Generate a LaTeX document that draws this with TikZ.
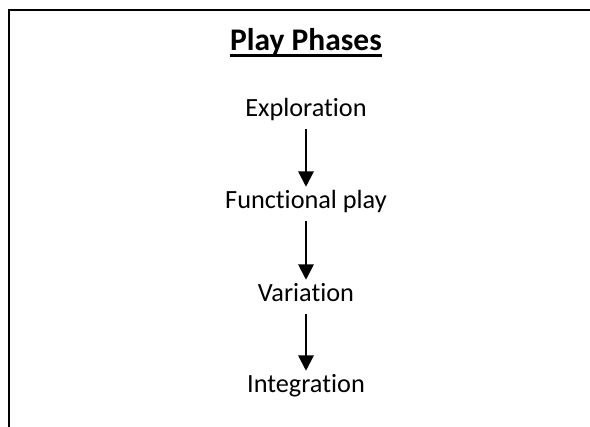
\documentclass[tikz,border=0pt]{standalone}
\usepackage{fontspec}
\setmainfont{Carlito}[Ligatures={CommonOff,ContextualOff}]
\usetikzlibrary{arrows.meta}
\begin{document}
\begin{tikzpicture}[x=0.75pt,y=-0.75pt,
  phase/.style={inner sep=0pt, anchor=base, font=\fontsize{19.7pt}{23pt}\selectfont,
                text height=16.5pt, text depth=9pt},
  heading/.style={inner sep=0pt, anchor=base, font=\fontsize{23.6pt}{28pt}\selectfont\bfseries},
  flow/.style={line width=1.5pt, -{Triangle[width=11.5pt,length=11.5pt]}},
  frame/.style={line width=1.3pt}]
  \useasboundingbox[fill=white] (0,0) rectangle (590,427);

  % open frame: top and left edges only
  \coordinate (topright) at (590,10);
  \coordinate (corner) at (9,10);
  \coordinate (bottomleft) at (9,427);
  \draw[frame] (topright) -- (corner) -- (bottomleft);

  % heading with underline
  \node[heading] (title) at (306,51) {Play Phases};
  \draw[line width=1.9pt] ([yshift=-3.4pt]title.base west) -- ([yshift=-3.4pt]title.base east);

  % phases
  \node[phase] (explore) at (306,117) {Exploration};
  \node[phase] (func) at (306,209) {Functional play};
  \node[phase] (vary) at (306,302) {Variation};
  \node[phase] (integ) at (306,393) {Integration};

  \draw[flow] (explore.south) -- (func.north);
  \draw[flow] (func.south) -- (vary.north);
  \draw[flow] (vary.south) -- (integ.north);
\end{tikzpicture}
\end{document}
